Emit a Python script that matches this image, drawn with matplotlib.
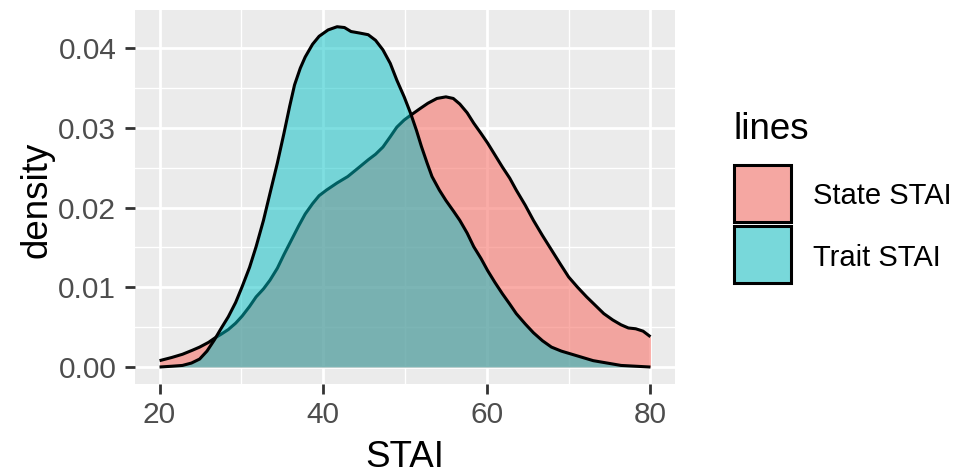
import matplotlib
matplotlib.use("Agg")
import matplotlib.pyplot as plt
from matplotlib.patches import Rectangle
from matplotlib.ticker import MultipleLocator

plt.rcParams['font.family'] = ['Liberation Sans', 'DejaVu Sans']

# Traced density curves
state_x = [20, 21.5, 22.8, 24.0, 24.9, 26.0, 26.7, 27.5, 28.4, 29.3, 30.1, 31.0, 31.8, 32.7, 33.5, 34.4,
           35.2, 36.1, 37.0, 37.8, 38.7, 39.5, 40.4, 41.7, 43.0, 44.2, 45.5, 46.4, 47.3, 48.2, 49.0, 49.9,
           50.7, 51.8, 52.8, 53.9, 55.0, 55.9, 56.7, 57.6, 58.4, 59.3, 60.1, 61.0, 61.9, 62.8, 63.6, 64.7,
           65.7, 66.8, 67.9, 69.0, 70.0, 71.1, 72.2, 73.3, 74.3, 75.4, 76.4, 77.3, 78.2, 79.1, 80.0]
state_y = [0.0008, 0.0012, 0.0016, 0.0021, 0.0025, 0.0031, 0.0036, 0.0041, 0.0047, 0.0055, 0.0064, 0.0076,
           0.0088, 0.0098, 0.0109, 0.0124, 0.0141, 0.0159, 0.0177, 0.0192, 0.0205, 0.0215, 0.0222, 0.0231,
           0.0239, 0.0249, 0.0260, 0.0267, 0.0276, 0.0289, 0.0301, 0.0310, 0.0316, 0.0324, 0.0331, 0.0337,
           0.0339, 0.0337, 0.0330, 0.0319, 0.0306, 0.0293, 0.0281, 0.0266, 0.0251, 0.0237, 0.0222, 0.0203,
           0.0184, 0.0165, 0.0147, 0.0129, 0.0113, 0.0100, 0.0088, 0.0077, 0.0067, 0.0059, 0.0053, 0.0049,
           0.0048, 0.0045, 0.0038]

trait_x = [20, 21.5, 22.8, 23.9, 24.9, 25.8, 26.7, 27.5, 28.4, 29.3, 30.1, 31.0, 31.8, 32.7, 33.5, 34.4,
           35.2, 35.9, 36.5, 37.2, 37.8, 38.7, 39.5, 40.6, 41.7, 42.6, 43.4, 44.5, 45.5, 46.4, 47.3, 48.2,
           49.0, 49.9, 50.7, 51.4, 52.0, 52.7, 53.3, 54.2, 55.0, 55.9, 56.7, 57.6, 58.4, 59.3, 60.1, 61.0,
           61.9, 62.8, 63.6, 64.7, 65.7, 66.8, 67.9, 69.1, 70.4, 71.7, 73.0, 74.7, 76.4, 78.2, 80.0]
trait_y = [0.0000, 0.0001, 0.0002, 0.0005, 0.0010, 0.0020, 0.0034, 0.0048, 0.0063, 0.0081, 0.0101, 0.0125,
           0.0151, 0.0184, 0.0218, 0.0256, 0.0293, 0.0327, 0.0354, 0.0375, 0.0389, 0.0405, 0.0415, 0.0423,
           0.0427, 0.0426, 0.0421, 0.0419, 0.0417, 0.0410, 0.0398, 0.0381, 0.0360, 0.0339, 0.0318, 0.0297,
           0.0277, 0.0256, 0.0239, 0.0222, 0.0209, 0.0196, 0.0184, 0.0168, 0.0151, 0.0136, 0.0121, 0.0106,
           0.0092, 0.0079, 0.0067, 0.0054, 0.0043, 0.0033, 0.0025, 0.0020, 0.0016, 0.0012, 0.0008, 0.0005,
           0.0002, 0.0001, 0.0000]

series_labels = ["State STAI", "Trait STAI"]
series_colors = ["#F8766D", "#00BFC4"]
series_alpha = [0.6, 0.5]
legend_title = "lines"
x_label = "STAI"
y_label = "density"
x_ticks = [20, 40, 60, 80]
y_ticks = [0.00, 0.01, 0.02, 0.03, 0.04]
y_tick_labels = ["0.00", "0.01", "0.02", "0.03", "0.04"]

W, H = 963, 474
fig = plt.figure(figsize=(W / 100, H / 100), dpi=100)
ax = fig.add_axes([135 / W, (H - 384) / H, 540 / W, 374 / H])
ax.set_facecolor("#EBEBEB")
for s in ax.spines.values():
    s.set_visible(False)

ax.set_xlim(17, 83)
ax.set_ylim(-0.00213, 0.0448)
ax.set_xticks(x_ticks)
ax.set_yticks(y_ticks)
ax.set_yticklabels(y_tick_labels)
ax.xaxis.set_minor_locator(MultipleLocator(10))
ax.yaxis.set_minor_locator(MultipleLocator(0.005))
ax.grid(which="major", color="white", linewidth=2.0)
ax.grid(which="minor", color="white", linewidth=1.0)
ax.set_axisbelow(True)
ax.tick_params(which="major", length=7, width=2.0, color="#333333", labelsize=21.5,
               labelcolor="#4D4D4D")
ax.tick_params(axis="x", which="major", pad=5)
ax.tick_params(axis="y", which="major", pad=6.5)
ax.tick_params(which="minor", length=0)

lw = 2.2
ax.fill_between(state_x, state_y, 0, color=series_colors[0], alpha=series_alpha[0], linewidth=0, zorder=2)
ax.plot(state_x, state_y, color="black", linewidth=lw, zorder=3, solid_capstyle="butt")
ax.fill_between(trait_x, trait_y, 0, color=series_colors[1], alpha=series_alpha[1], linewidth=0, zorder=4)
ax.plot(trait_x, trait_y, color="black", linewidth=lw, zorder=5, solid_capstyle="butt")

# Axis titles
fig.text(405 / W, 1 - 467 / H, x_label, fontsize=26.5, ha="center", va="baseline")
fig.text(47 / W, 1 - 200 / H, y_label, fontsize=26.5, ha="center", va="baseline",
         rotation=90, rotation_mode="anchor")

# Legend
fig.text(733 / W, 1 - 139 / H, legend_title, fontsize=26.5, va="baseline", ha="left")
key_tops = [165, 226]
ks = 57
for lab, col, a, top in zip(series_labels, series_colors, series_alpha, key_tops):
    xy = (734 / W, 1 - (top + ks) / H)
    fig.add_artist(Rectangle(xy, ks / W, ks / H, transform=fig.transFigure,
                             facecolor="#F2F2F2", edgecolor="none"))
    fig.add_artist(Rectangle(xy, ks / W, ks / H, transform=fig.transFigure,
                             facecolor=col, alpha=a, edgecolor="none"))
    fig.add_artist(Rectangle(xy, ks / W, ks / H, transform=fig.transFigure,
                             facecolor="none", edgecolor="black", linewidth=lw))
    fig.text(813 / W, 1 - (top + ks / 2) / H, lab, fontsize=21, va="center_baseline", ha="left")

fig.savefig("out.png", dpi=100)
